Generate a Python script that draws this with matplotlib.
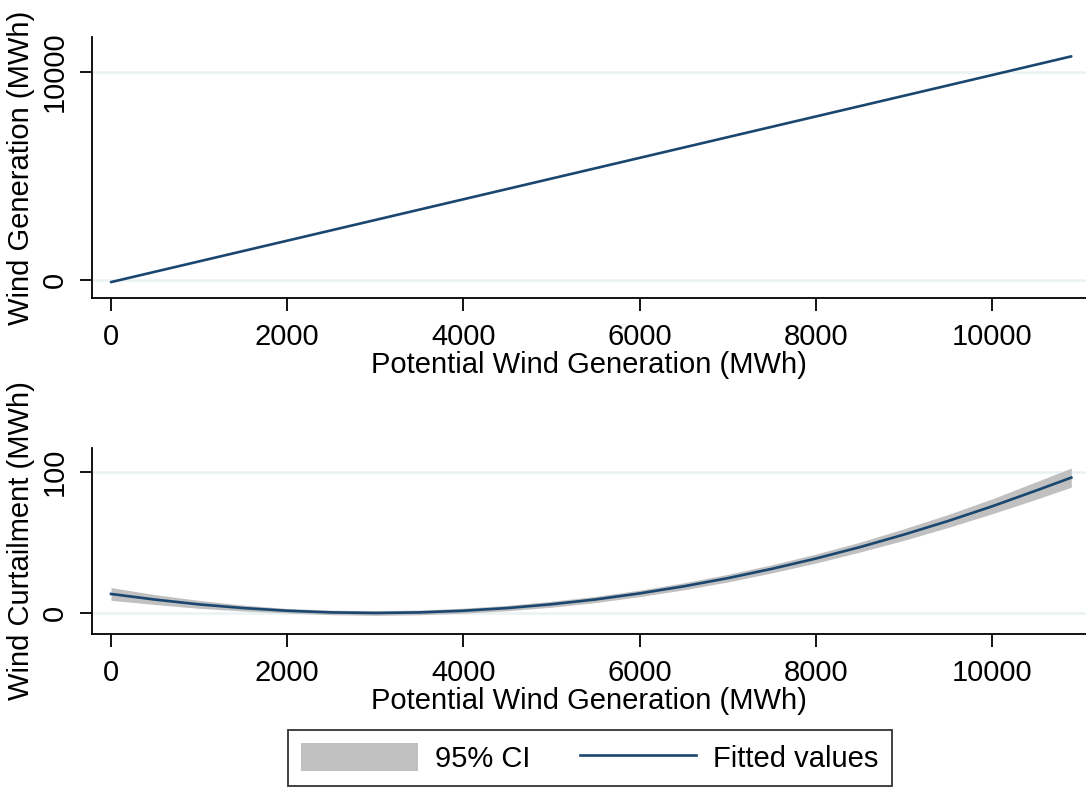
import matplotlib
matplotlib.use("Agg")
import matplotlib.pyplot as plt
from matplotlib.patches import Patch
from matplotlib.lines import Line2D

plt.rcParams['font.family'] = ['Liberation Sans', 'DejaVu Sans']

# Upper panel: fitted wind generation against potential generation
gen_x = [0, 2000, 4000, 6000, 8000, 10000, 10900]
gen_fit = [-100, 1890, 3880, 5870, 7860, 9850, 10750]

# Lower panel: fitted curtailment with 95% confidence band
curt_x = [0, 500, 1000, 1500, 2000, 2500, 3000, 3500, 4000, 4500, 5000, 5500,
          6000, 6500, 7000, 7500, 8000, 8500, 9000, 9500, 10000, 10500, 10900]
curt_fit = [13.5, 9.5, 6.1, 3.5, 1.6, 0.4, 0.0, 0.4, 1.6, 3.5, 6.2, 9.6,
            13.9, 18.9, 24.7, 31.3, 38.6, 46.7, 55.6, 65.2, 75.6, 86.8, 96.0]
curt_lo = [9.0, 6.0, 3.3, 1.4, 0.0, -1.2, -1.7, -1.3, -0.2, 1.6, 4.1, 7.4,
           11.6, 16.4, 22.0, 28.4, 35.4, 43.2, 51.5, 60.6, 70.3, 80.6, 89.2]
curt_hi = [18.0, 13.0, 8.9, 5.6, 3.2, 2.0, 1.7, 2.1, 3.4, 5.4, 8.3, 11.8,
           16.2, 21.4, 27.4, 34.2, 41.8, 50.2, 59.7, 69.8, 80.9, 93.0, 102.8]

x_ticks = [0, 2000, 4000, 6000, 8000, 10000]
gen_yticks = [0, 10000]
curt_yticks = [0, 100]

line_color = '#1A476F'
band_color = '#C0C0C0'
grid_color = '#EAF2F3'
fs = 21

fig = plt.figure(figsize=(10.86, 7.88), dpi=100)
ax1 = fig.add_axes([92 / 1086, 1 - 298 / 788, 1 - 92 / 1086, (298 - 37) / 788])
ax2 = fig.add_axes([92 / 1086, 1 - 634 / 788, 1 - 92 / 1086, (634 - 448) / 788])


def style(ax, yticks, ylabel):
    for s in ('top', 'right'):
        ax.spines[s].set_visible(False)
    for s in ('left', 'bottom'):
        ax.spines[s].set_linewidth(1.3)
        ax.spines[s].set_color('black')
    ax.set_xticks(x_ticks)
    ax.set_yticks(yticks)
    ax.tick_params(axis='both', direction='out', length=9, width=1.3,
                   labelsize=fs, colors='black')
    ax.tick_params(axis='x', pad=9)
    ax.tick_params(axis='y', pad=8)
    for lbl in ax.get_yticklabels():
        lbl.set_rotation(90)
        lbl.set_va('center')
    ax.yaxis.grid(True, color=grid_color, linewidth=1.8)
    ax.set_axisbelow(True)
    ax.set_xlabel('Potential Wind Generation (MWh)', fontsize=fs, labelpad=0)
    ax.set_ylabel(ylabel, fontsize=fs, labelpad=4)


ax1.plot(gen_x, gen_fit, color=line_color, linewidth=1.9, solid_capstyle='round')
ax1.set_xlim(-216, 11067)
ax1.set_ylim(-865, 11680)
style(ax1, gen_yticks, 'Wind Generation (MWh)')

ax2.fill_between(curt_x, curt_lo, curt_hi, color=band_color, linewidth=0)
ax2.plot(curt_x, curt_fit, color=line_color, linewidth=1.9)
ax2.set_xlim(-216, 11067)
ax2.set_ylim(-14.9, 117)
style(ax2, curt_yticks, 'Wind Curtailment (MWh)')

handles = [Patch(facecolor=band_color, edgecolor='none', label='95% CI'),
           Line2D([], [], color=line_color, linewidth=1.9, label='Fitted values')]
leg = fig.legend(handles=handles, loc='center', bbox_to_anchor=(590 / 1086, 1 - 758 / 788),
                 ncol=2, fontsize=fs, frameon=True, fancybox=False, edgecolor='black',
                 handlelength=4.0, handleheight=1.1, handletextpad=0.58,
                 columnspacing=1.7, borderpad=0.45, borderaxespad=0)
leg.get_frame().set_linewidth(1.3)

fig.savefig('out.png', dpi=100, facecolor='white')
